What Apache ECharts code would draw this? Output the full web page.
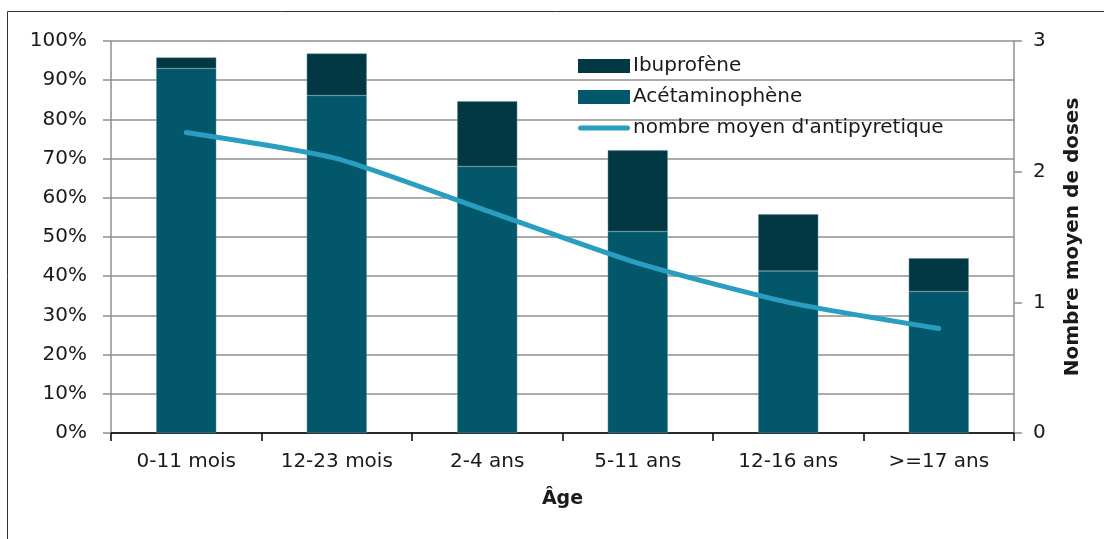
<!DOCTYPE html>
<html><head><meta charset="utf-8">
<script src="https://cdn.jsdelivr.net/npm/echarts@6/dist/echarts.min.js"></script>
<style>html,body{margin:0;padding:0;background:#fff}#c{width:1104px;height:539px}</style>
</head><body><div id="c"></div>
<script>
var categories = ['0-11 mois', '12-23 mois', '2-4 ans', '5-11 ans', '12-16 ans', '>=17 ans'];
var acetaminophene = [93, 86.1, 68.0, 51.4, 41.3, 36.1];
var ibuprofene = [2.8, 10.7, 16.6, 20.7, 14.5, 8.5];
var nombreMoyen = [2.3, 2.1, 1.7, 1.3, 1.0, 0.8];
var leftTicks = ['0%', '10%', '20%', '30%', '40%', '50%', '60%', '70%', '80%', '90%', '100%'];

var FONT = '"DejaVu Sans", "Liberation Sans", Arial, sans-serif';
var TXT = '#1a1a1a';
var GRID = '#8f8f8f';
var LINE = '#2A9EC0';
var chart = echarts.init(document.getElementById('c'), null, {renderer: 'canvas'});
chart.setOption({
  animation: false,
  textStyle: {fontFamily: FONT},
  grid: {left: 111, right: 90, top: 41, bottom: 106},
  legend: {
    orient: 'vertical', left: 573, top: 50, itemWidth: 52, itemHeight: 14, itemGap: 9,
    itemStyle: {borderWidth: 0},
    textStyle: {fontFamily: FONT, fontSize: 20, color: TXT, lineHeight: 22, padding: [0, 0, 0, -2]},
    data: [
      {name: 'Ibuprofène', icon: 'rect'},
      {name: 'Acétaminophène', icon: 'rect'},
      {name: "nombre moyen d'antipyretique",
       icon: 'path://M2.5,0L49.5,0A2.5,2.5 0 0 1 49.5,5L2.5,5A2.5,2.5 0 0 1 2.5,0Z',
       itemStyle: {color: LINE, borderWidth: 0}}
    ]
  },
  xAxis: {
    type: 'category', data: categories, boundaryGap: true,
    name: 'Âge', nameLocation: 'middle', nameGap: 57,
    nameTextStyle: {fontFamily: FONT, fontSize: 19, fontWeight: 'bold', color: TXT},
    axisLine: {lineStyle: {color: '#000', width: 1.5}},
    axisTick: {show: true, length: 8, lineStyle: {color: '#000', width: 1.5}},
    axisLabel: {fontFamily: FONT, fontSize: 20, color: TXT, margin: 19}
  },
  yAxis: [{
    type: 'value', min: 0, max: 100, interval: 10,
    axisLine: {show: true, lineStyle: {color: GRID, width: 1.5}},
    axisTick: {show: true, length: 8, lineStyle: {color: GRID, width: 1.5}},
    splitLine: {lineStyle: {color: GRID, width: 1.5}},
    axisLabel: {fontFamily: FONT, fontSize: 20, color: TXT, margin: 24,
      formatter: function (v) { return leftTicks[Math.round(v / 10)]; }}
  }, {
    type: 'value', min: 0, max: 3, interval: 1, position: 'right',
    name: 'Nombre moyen de doses', nameLocation: 'middle', nameGap: 49, nameRotate: 90,
    nameTextStyle: {fontFamily: FONT, fontSize: 20, fontWeight: 'bold', color: TXT},
    axisLine: {show: true, lineStyle: {color: GRID, width: 1.5}},
    axisTick: {show: true, length: 8, lineStyle: {color: GRID, width: 1.5}},
    splitLine: {show: false},
    axisLabel: {fontFamily: FONT, fontSize: 20, color: TXT, margin: 19}
  }],
  series: [{
    name: 'Acétaminophène', type: 'bar', stack: 'a', barWidth: 60, data: acetaminophene,
    itemStyle: {color: '#02586A', borderColor: '#5f8f99', borderWidth: 0.5}
  }, {
    name: 'Ibuprofène', type: 'bar', stack: 'a', barWidth: 60, data: ibuprofene,
    itemStyle: {color: '#023744', borderColor: '#5f8f99', borderWidth: 0.5}
  }, {
    name: "nombre moyen d'antipyretique", type: 'line', yAxisIndex: 1, data: nombreMoyen,
    smooth: 0.2, symbol: 'none', z: 5,
    lineStyle: {color: LINE, width: 5, cap: 'round'}, itemStyle: {color: LINE}
  }],
  graphic: [{
    type: 'polyline', silent: true,
    shape: {points: [[7.5, 539], [7.5, 11.5], [1104, 11.5]]},
    style: {stroke: '#333', lineWidth: 1, fill: null}
  }]
});
</script></body></html>
